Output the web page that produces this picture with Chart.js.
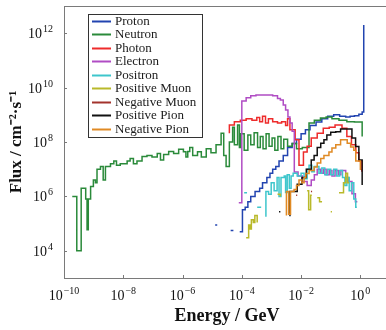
<!DOCTYPE html>
<html>
<head>
<meta charset="utf-8">
<script src="https://cdn.jsdelivr.net/npm/chart.js@4.4.1/dist/chart.umd.min.js"></script>
<style>
  html, body { margin: 0; padding: 0; background: #fff; overflow: hidden; }
  #wrap { width: 392px; height: 330px; }
</style>
</head>
<body>
<div id="wrap"><canvas id="flux" width="392" height="330"></canvas></div>
<script>
// tick positions (GeV and cm^-2 s^-1)
const xTicks = [1e-10, 1e-8, 1e-6, 1e-4, 1e-2, 1];
const yTicks = [1e4, 1e6, 1e8, 1e10, 1e12];

const particles = ['Proton', 'Neutron', 'Photon', 'Electron', 'Positron',
    'Positive Muon', 'Negative Muon', 'Positive Pion', 'Negative Pion'];
const colors = ['#2244b0', '#2a8a3a', '#ee2b2b', '#b04cc4', '#3ec6cc',
    '#b9b92a', '#a3332c', '#111111', '#e08a24'];

// [energy GeV, flux] pairs, bin left edges; null = gap
const protonPts = [
    [1.26e-5, 8.9e4], [1.48e-5, 8.9e4], [1.5e-5, null],
    [4.2e-5, 5.6e4], [5.2e-5, 5.6e4], [5.3e-5, null],
    [8.5e-5, 5e4], [1.05e-4, 3.2e5], [1.3e-4, 4e5], [1.6e-4, 6.3e5], [2e-4, 1e6],
    [2.8e-4, 1.5e6], [4e-4, 2e6], [5e-4, 3.2e6], [7e-4, 5e6], [8.9e-4, 7.1e6],
    [1.1e-3, 1e7], [1.4e-3, 1.26e7], [1.8e-3, 2e7], [2.5e-3, 3.2e7], [3.5e-3, 6.3e7],
    [5e-3, 8.9e7], [7e-3, 1.26e8], [1e-2, 2e8], [1.4e-2, 2.8e8], [2e-2, 4e8],
    [3.2e-2, 5.4e8], [5e-2, 7.1e8], [7.9e-2, 8.9e8], [0.126, 1e9], [0.2, 8.9e8],
    [0.32, 8.3e8], [0.45, 8.9e8], [0.63, 9.3e8], [0.89, 1.05e9], [1.15, 1.26e9], [1.3, 2e12]
];

const neutronPts = [
    [1.9e-10, 1e6], [2.7e-10, 1e4], [3.8e-10, 2e6], [5.4e-10, 8e5], [6.0e-10, 6e4],
    [6.6e-10, 8e5], [7.9e-10, 2.3e6], [9.8e-10, 4e6], [1.15e-9, 3.2e6], [1.3e-9, 1e7],
    [1.7e-9, 1.26e7], [2.1e-9, 4e6], [2.5e-9, 1.26e7], [3.7e-9, 1.6e7], [4.8e-9, 2e7],
    [5.9e-9, 1.4e7], [7.9e-9, 1.6e7], [1.35e-8, 2e7], [1.7e-8, 2.5e7], [2.2e-8, 1.6e7],
    [2.9e-8, 2e7], [4.3e-8, 2.9e7], [6.3e-8, 3.2e7], [9.3e-8, 2.8e7], [1.4e-7, 3.8e7],
    [1.8e-7, 2.2e7], [2.3e-7, 3.5e7], [3.4e-7, 4.5e7], [5.0e-7, 3.8e7], [7.4e-7, 5.4e7],
    [1.07e-6, 4.4e7], [1.3e-6, 2.8e7], [1.5e-6, 4.5e7], [1.75e-6, 6.3e7], [2.2e-6, 3.2e7],
    [3.2e-6, 4.4e7], [4.3e-6, 2.8e7], [6.3e-6, 5.6e7], [9.1e-6, 4e7], [1.35e-5, 7.9e7],
    [2e-5, 2.1e8], [2.45e-5, 3.2e7], [2.95e-5, 1.26e7], [3.8e-5, 1e8], [4.9e-5, 3.5e8],
    [5.6e-5, 7.9e7], [7.2e-5, 4.2e8], [8.3e-5, 6.3e7], [9.3e-5, 2e8], [1.2e-4, 5e7],
    [1.6e-4, 1.8e8], [2e-4, 7.9e7], [2.6e-4, 2.2e8], [3.4e-4, 6.3e7], [4.2e-4, 1.6e8],
    [5.2e-4, 5.6e7], [6.6e-4, 2e8], [8.3e-4, 7e7], [1.05e-3, 1.4e8], [1.3e-3, 5e7],
    [1.65e-3, 1.6e8], [2.1e-3, 5.6e7], [2.6e-3, 1.26e8], [3.5e-3, 7e7], [5e-3, 8.9e7],
    [7e-3, 5.6e7], [1.1e-2, 6.3e7], [1.85e-2, 5e8], [2.8e-2, 6.3e8], [4.5e-2, 7.6e8],
    [7e-2, 8.3e8], [0.11, 7.1e8], [0.19, 6.3e8], [0.35, 5.6e8], [0.63, 5.4e8], [1.15, 1.6e8]
];

const photonPts = [
    [3.8e-5, 2.1e8], [3.8e-5, 4.2e8], [5.6e-5, 5.6e8], [8.9e-5, 6.3e8], [1.4e-4, 7.1e8],
    [2.2e-4, 6.3e8], [3.2e-4, 7.9e8], [4e-4, 5.6e8], [5e-4, 8.9e8], [6.3e-4, 5e8],
    [7.9e-4, 7.1e8], [1.1e-3, 5.6e8], [1.6e-3, 5e8], [2.2e-3, 5.6e8], [3e-3, 4e8],
    [3.5e-3, 7.1e8], [4.2e-3, 2.8e8], [6.3e-3, 1.2e8], [8.5e-3, 1.4e7], [1.2e-2, 4.3e7],
    [1.6e-2, 7e7], [2.2e-2, 1.4e8], [3.5e-2, 2.1e8], [5.6e-2, 3.2e8], [8.9e-2, 3.5e8],
    [0.14, 4.2e8], [0.24, 3.2e8], [0.35, 1.6e8], [0.5, 7.9e7], [0.7, 4e7], [0.89, 2e7], [1.12, 8e6]
];

const electronPts = [
    [7.9e-5, 5.8e5], [1e-4, 3.2e9], [1.4e-4, 4.2e9], [2e-4, 5e9], [3e-4, 5.3e9],
    [1.1e-3, 5e9], [1.6e-3, 4e9], [2e-3, 3.5e9], [2.5e-3, 2.3e9], [3e-3, 1.5e9],
    [3.6e-3, 8.3e8], [4.2e-3, 5e8], [5e-3, 2.5e8], [5.9e-3, 7.9e6], [7.9e-3, 5.6e6],
    [1.1e-2, 3.5e6], [1.6e-2, 2.5e6], [2.2e-2, 4e6], [2.8e-2, 6.3e6], [3.5e-2, 1e7],
    [4.5e-2, 7.1e6], [5.6e-2, 1e7], [7e-2, 6.3e6], [8.9e-2, 8.9e6], [0.11, 5.6e6],
    [0.14, 8.9e6], [0.18, 6.3e6], [0.22, 8.9e6], [0.32, 5e6], [0.4, 3.5e6],
    [0.52, 1.26e6], [0.68, 6.3e5], [0.79, 6.3e5]
];

const positronPts = [
    [1.2e-4, 1.35e6], [1.5e-4, 1.35e6], [1.55e-4, null],
    [3.3e-4, 4e5], [4.5e-4, 4e5], [4.6e-4, null],
    [6.5e-4, 1.8e5], [6.5e-4, 1.5e6], [8e-4, 1.2e6], [9.8e-4, 3.2e6], [1.23e-3, 1.6e6],
    [1.55e-3, 5e6], [1.8e-3, 1e6], [2.1e-3, 5e6], [2.7e-3, 5.6e6], [3e-3, 1.4e6],
    [3.4e-3, 6.3e6], [4e-3, 2e6], [4.6e-3, 5.6e6], [5.4e-3, 7.1e6], [7.4e-3, 5.6e6],
    [1e-2, 7.1e6], [1.26e-2, 4.5e6], [1.6e-2, 1e7], [1.86e-2, 1.4e7], [2.3e-2, 8e6],
    [2.8e-2, 1.26e7], [4e-2, 7.1e6], [5e-2, 1.1e7], [6.3e-2, 6.3e6], [7.9e-2, 1e7],
    [0.1, 6.3e6], [0.126, 1e7], [0.16, 5.6e6], [0.2, 8.9e6], [0.25, 5e6], [0.3, 2.5e6],
    [0.35, 5e6], [0.42, 1.6e6], [0.5, 3.2e6], [0.6, 8e5], [0.7, 4e5], [0.76, 4e5]
];

const posMuonPts = [
    [1.4e-4, 3e4], [1.7e-4, 8.9e4], [1.9e-4, 6.3e4], [2.1e-4, 1.4e5], [2.45e-4, 1.1e5],
    [2.75e-4, 2e5], [3.3e-4, 1.1e5], [3.4e-4, null],
    [1.6e-3, 1.2e6], [2e-3, 1e6], [2.1e-3, null],
    [1.6e-2, 1.6e6], [1.8e-2, 3.2e5], [2.1e-2, 1.1e6], [2.3e-2, 1.1e6], [2.4e-2, null],
    [3.5e-2, 8.9e5], [4.2e-2, 6.3e5], [5.1e-2, 6.3e5], [5.3e-2, null],
    [0.1, 2.7e5], [0.11, 2.7e5], [0.115, null],
    [0.19, 1.35e6], [0.25, 1.35e6], [0.27, 3.2e6], [0.32, 7.1e6], [0.37, 3.2e6], [0.42, 3.2e6]
];

const negMuonPts = [
    [6.8e-3, 1.1e6], [7.4e-3, 1.1e6], [7.5e-3, null],
    [2.15e-2, 1.5e6], [2.35e-2, 1.5e6]
];

const posPionPts = [
    [1.8e-3, 2.7e5], [2e-3, 2.7e5], [2.05e-3, null],
    [4e-3, 2e5], [4.2e-3, 1.5e6], [7.4e-3, 2.8e6], [1.07e-2, 5e6], [1.5e-2, 1e7],
    [2.2e-2, 2.2e7], [2.75e-2, 3.2e7], [3.5e-2, 6.3e7], [4.6e-2, 9e7], [5.9e-2, 1.2e8],
    [7.4e-2, 1.8e8], [0.1, 2.3e8], [0.148, 2.4e8], [0.215, 3e8], [0.52, 1.4e8],
    [0.69, 6.8e7], [0.89, 2.2e7], [1.15, 2.6e6]
];

const negPionPts = [
    [3.2e-3, 2e5], [3.2e-3, 1.5e6], [3.8e-3, 2.2e5], [4.4e-3, 1.5e6], [5.8e-3, 1.8e6],
    [7e-3, 2.5e6], [8.5e-3, 4e6], [1.07e-2, 3.2e6], [1.26e-2, 5e6], [1.45e-2, 7e6],
    [1.86e-2, 9e6], [2.75e-2, 1.2e7], [3.5e-2, 1.7e7], [4.6e-2, 2.5e7], [5.9e-2, 3.2e7],
    [8.7e-2, 4.3e7], [0.11, 6e7], [0.148, 7.9e7], [0.215, 1.2e8], [0.36, 9e7],
    [0.47, 6.5e7], [0.6, 5e7], [0.7, 2e7], [1.0, 1e7], [1.05, 1e7]
];

const series = [protonPts, neutronPts, photonPts, electronPts, positronPts,
    posMuonPts, negMuonPts, posPionPts, negPionPts];

const serif = '"Liberation Serif", "Times New Roman", serif';

// "10" with a raised exponent, like the original axis labels
function drawPow(ctx, v, x, baseY, align) {
    const e = String(Math.round(Math.log10(v))).replace('-', '\u2212');
    ctx.font = '14px ' + serif;
    const wb = ctx.measureText('10').width;
    ctx.font = '10px ' + serif;
    const we = ctx.measureText(e).width;
    const w = wb + we + 1;
    const x0 = align === 'center' ? x - w / 2 : x - w;
    ctx.font = '14px ' + serif;
    ctx.fillText('10', x0, baseY);
    ctx.font = '10px ' + serif;
    ctx.fillText(e, x0 + wb + 1, baseY - 6);
}

// box top, inward tick marks, tick labels and the boxed legend
const framePlugin = {
    id: 'frame',
    afterDatasetsDraw(chart) {
        const { ctx, chartArea: a, scales } = chart;
        ctx.save();
        ctx.strokeStyle = '#7a7a7a';
        ctx.lineWidth = 1;
        ctx.beginPath();
        ctx.moveTo(a.left, a.top + 0.5);
        ctx.lineTo(a.right, a.top + 0.5);
        xTicks.forEach(v => {
            const px = Math.round(scales.x.getPixelForValue(v)) + 0.5;
            ctx.moveTo(px, a.bottom);
            ctx.lineTo(px, a.bottom - 3);
        });
        yTicks.forEach(v => {
            const py = Math.round(scales.y.getPixelForValue(v)) + 0.5;
            ctx.moveTo(a.left, py);
            ctx.lineTo(a.left + 3, py);
        });
        ctx.stroke();

        ctx.fillStyle = '#111';
        ctx.textBaseline = 'alphabetic';
        xTicks.forEach(v => drawPow(ctx, v, scales.x.getPixelForValue(v), a.bottom + 22, 'center'));
        yTicks.forEach(v => drawPow(ctx, v, a.left - 11, scales.y.getPixelForValue(v) + 5, 'right'));

        const lx = a.left + 24, ly = a.top + 8, lw = 114, lh = 123;
        ctx.fillStyle = '#fff';
        ctx.fillRect(lx, ly, lw, lh);
        ctx.strokeStyle = '#333';
        ctx.strokeRect(lx + 0.5, ly + 0.5, lw, lh);
        ctx.font = '13px ' + serif;
        ctx.textBaseline = 'middle';
        particles.forEach((name, i) => {
            const cy = Math.round(ly + 7 + i * 13.45) + 0.5;
            ctx.strokeStyle = colors[i];
            ctx.lineWidth = 2;
            ctx.beginPath();
            ctx.moveTo(lx + 4, cy);
            ctx.lineTo(lx + 23, cy);
            ctx.stroke();
            ctx.fillStyle = '#1a1a1a';
            ctx.fillText(name, lx + 27, cy);
        });
        ctx.restore();
    }
};

const datasets = particles.map((name, i) => ({
    label: name,
    data: series[i].map(p => ({ x: p[0], y: p[1] })),
    borderColor: colors[i],
    backgroundColor: colors[i],
    borderWidth: 1.5,
    pointRadius: 0,
    stepped: true,
    fill: false,
    order: particles.length - i,
}));

new Chart(document.getElementById('flux'), {
    type: 'line',
    data: { datasets: datasets },
    plugins: [framePlugin],
    options: {
        responsive: false,
        animation: false,
        layout: { padding: { top: 6, right: 2, left: 0, bottom: 0 } },
        plugins: {
            legend: { display: false },
            tooltip: { enabled: false },
        },
        scales: {
            x: {
                type: 'logarithmic',
                min: 1e-10,
                max: 10,
                afterBuildTicks: s => { s.ticks = xTicks.map(v => ({ value: v })); },
                afterFit: s => { s.height = 52; s.paddingLeft = 0; s.paddingRight = 0; },
                grid: { display: false },
                border: { color: '#7a7a7a' },
                ticks: { display: false },
                title: {
                    display: true,
                    text: 'Energy / GeV',
                    color: '#111',
                    font: { family: serif, size: 18, weight: 'bold' },
                    padding: { top: 0, bottom: 3 },
                },
            },
            y: {
                type: 'logarithmic',
                min: 1e3,
                max: 1e13,
                afterBuildTicks: s => { s.ticks = yTicks.map(v => ({ value: v })); },
                afterFit: s => { s.width = 64; s.paddingTop = 0; s.paddingBottom = 0; },
                grid: { display: false },
                border: { color: '#7a7a7a' },
                ticks: { display: false },
                title: {
                    display: true,
                    text: 'Flux / cm\u207b\u00b2\u00b7s\u207b\u00b9',
                    color: '#111',
                    font: { family: serif, size: 17, weight: 'bold' },
                    padding: { top: 6, bottom: 0 },
                },
            },
        },
    },
});
</script>
</body>
</html>
